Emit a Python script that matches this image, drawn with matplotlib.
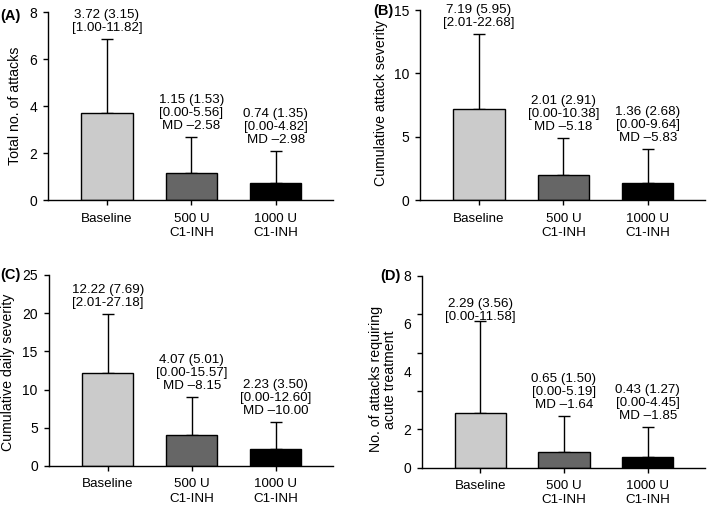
import numpy as np
import matplotlib
matplotlib.use('Agg')
import matplotlib.pyplot as plt

plt.rcParams['font.family'] = ['Liberation Sans', 'DejaVu Sans']

# Groups
groups = ['Baseline', '500 U\nC1-INH', '1000 U\nC1-INH']
bar_colors = ['#cbcbcb', '#666666', '#000000']

# Panel values: mean, SD (label), upper error drawn, range, mean difference
means_a = [3.72, 1.15, 0.74]
sd_a = [3.15, 1.53, 1.35]
err_a = [3.15, 1.53, 1.35]
range_a = ['1.00-11.82', '0.00-5.56', '0.00-4.82']
md_a = [None, '\u20132.58', '\u20132.98']

means_b = [7.19, 2.01, 1.36]
sd_b = [5.95, 2.91, 2.68]
err_b = [5.95, 2.91, 2.68]
range_b = ['2.01-22.68', '0.00-10.38', '0.00-9.64']
md_b = [None, '\u20135.18', '\u20135.83']

means_c = [12.22, 4.07, 2.23]
sd_c = [7.69, 5.01, 3.50]
err_c = [7.69, 5.01, 3.50]
range_c = ['2.01-27.18', '0.00-15.57', '0.00-12.60']
md_c = [None, '\u20138.15', '\u201310.00']

means_d = [2.29, 0.65, 0.43]
sd_d = [3.56, 1.50, 1.27]
err_d = [3.85, 1.50, 1.27]
range_d = ['0.00-11.58', '0.00-5.19', '0.00-4.45']
md_d = [None, '\u20131.64', '\u20131.85']

ylabels = ['Total no. of attacks', 'Cumulative attack severity',
           'Cumulative daily severity', 'No. of attacks requiring\nacute treatment']
ylims = [8, 15, 25, 8]
yticks = [[0, 2, 4, 6, 8], [0, 5, 10, 15], [0, 5, 10, 15, 20, 25], None]
d_tick_marks = [0, 1.6, 3.2, 4.8, 6.4, 8]
d_tick_label_pos = [0, 1.6, 4, 6, 8]
d_tick_labels = ['0', '2', '4', '6', '8']
letters = ['(A)', '(B)', '(C)', '(D)']

panels = [(means_a, sd_a, err_a, range_a, md_a),
          (means_b, sd_b, err_b, range_b, md_b),
          (means_c, sd_c, err_c, range_c, md_c),
          (means_d, sd_d, err_d, range_d, md_d)]

fig = plt.figure(figsize=(7.09, 5.08), dpi=100)

rects = [[0.0677, 0.606, 0.402, 0.370],
         [0.5924, 0.606, 0.402, 0.374],
         [0.0690, 0.0827, 0.4006, 0.376],
         [0.5948, 0.0797, 0.3990, 0.377]]
# right edge of the rotated y label, in axes fraction
ylabel_x = [-0.091, -0.112, -0.12, -0.087]
ylabel_y = [0.50, 0.51, 0.49, 0.46]
letter_pos = [(0.0, 0.969), (0.526, 0.978), (0.0, 0.459), (0.536, 0.457)]

fs = 9.6
x = np.arange(len(groups))

for k, (means, sds, errs, ranges, mds) in enumerate(panels):
    ax = fig.add_axes(rects[k])
    ax.errorbar(x, means, yerr=[np.zeros(3), errs], fmt='none', ecolor='black',
                elinewidth=1.0, capsize=4.6, capthick=1.0, zorder=1)
    ax.bar(x, means, width=0.61, color=bar_colors, edgecolor='black',
           linewidth=1.0, zorder=2)
    for i in range(3):
        lines = ['%.2f (%.2f)' % (means[i], sds[i]), '[%s]' % ranges[i]]
        if mds[i] is not None:
            lines.append('MD %s' % mds[i])
        ax.annotate('\n'.join(lines), xy=(x[i], means[i] + sds[i]),
                    xytext=(0, 3.5), textcoords='offset points',
                    ha='center', va='bottom', fontsize=fs, linespacing=1.12,
                    annotation_clip=False)

    ax.set_xlim(-0.70, 2.68)
    ax.set_ylim(0, ylims[k])
    if yticks[k] is not None:
        ax.set_yticks(yticks[k])
    else:
        # panel D: tick marks and labels do not line up in the original
        ax.yaxis.remove_overlapping_locs = False
        ax.set_yticks(d_tick_marks)
        ax.set_yticklabels([''] * len(d_tick_marks))
        ax.set_yticks(d_tick_label_pos, minor=True)
        ax.set_yticklabels(d_tick_labels, minor=True)
        ax.tick_params(axis='y', which='minor', length=0, pad=7.5, labelsize=fs + 0.4)
    ax.set_xticks(x)
    ax.set_xticklabels(groups, fontsize=fs, linespacing=1.25)
    ax.tick_params(axis='both', which='major', direction='out', length=3.5,
                   width=1.0, labelsize=fs + 0.4, pad=4.5)
    ax.tick_params(axis='x', pad=5.5, labelsize=fs)
    for s in ['top', 'right']:
        ax.spines[s].set_visible(False)
    for s in ['left', 'bottom']:
        ax.spines[s].set_linewidth(1.0)
    ax.set_ylabel(ylabels[k], fontsize=fs + 0.6, linespacing=1.05)
    ax.yaxis.set_label_coords(ylabel_x[k], ylabel_y[k])

    fig.text(letter_pos[k][0], letter_pos[k][1], letters[k], fontsize=10.5,
             fontweight='bold', ha='left', va='center')

fig.savefig('out.png', dpi=100)
